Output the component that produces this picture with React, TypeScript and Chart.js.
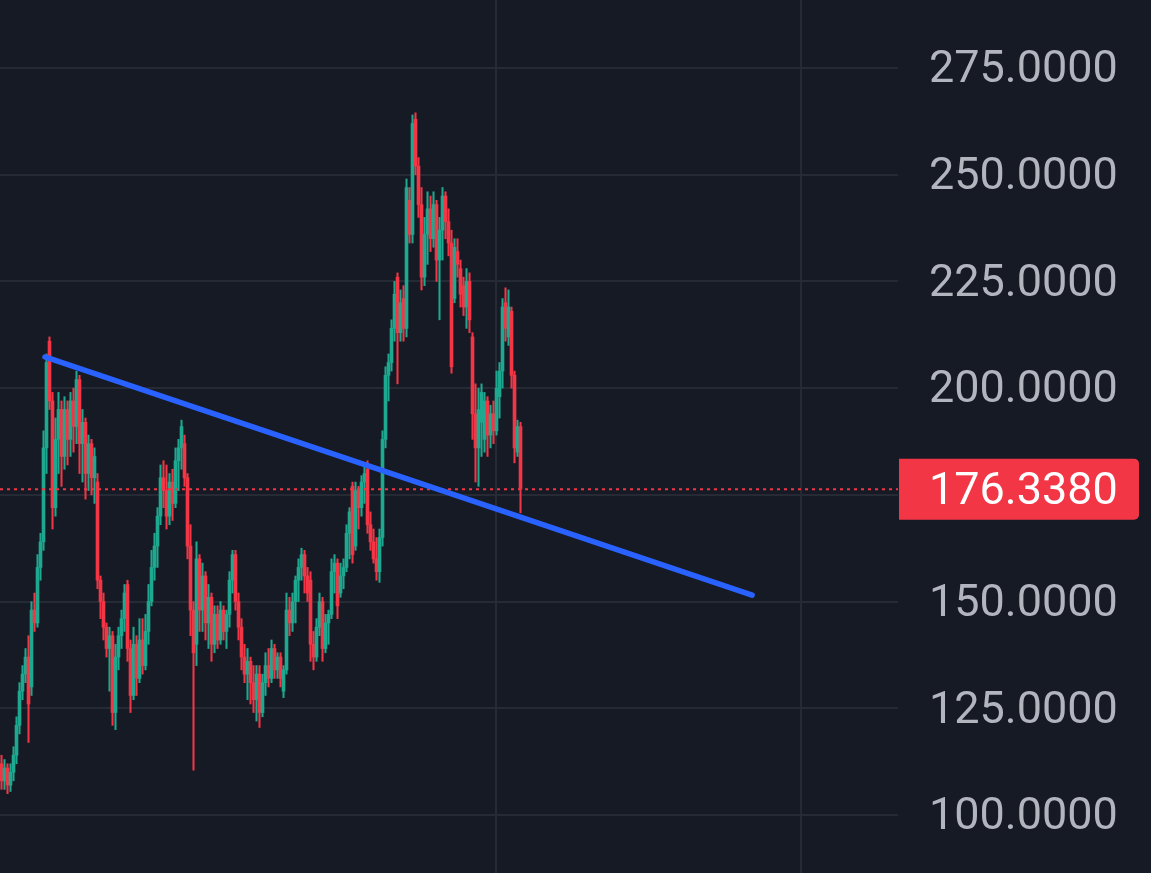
import React, { useEffect, useRef } from 'react';
import { Chart, registerables } from 'chart.js';

Chart.register(...registerables);

// OHLC data, one candle per bar
const opens = [
  112, 108, 111, 107, 110, 114, 121, 129, 133, 137,
  130, 148, 145, 158, 164, 186, 211, 197, 172, 188,
  195, 184, 195, 188, 197, 191, 202, 187, 192, 180,
  187, 179, 178, 155, 150, 144, 139, 142, 124, 137,
  142, 146, 154, 139, 128, 140, 132, 141, 135, 143,
  150, 158, 163, 170, 179, 176, 170, 178, 173, 183,
  186, 187, 179, 163, 148, 140, 160, 148, 156, 145,
  151, 140, 147, 141, 148, 143, 147, 155, 161, 150,
  144, 137, 133, 136, 131, 127, 133, 124, 131, 135,
  132, 139, 134, 137, 129, 134, 148, 145, 150, 155,
  158, 161, 156, 155, 140, 137, 144, 150, 139, 145,
  147, 157, 159, 152, 156, 158, 166, 177, 163, 176,
  172, 178, 181, 168, 164, 160, 157, 165, 188, 203,
  206, 214, 226, 213, 221, 214, 244, 236, 263, 252,
  243, 226, 236, 242, 235, 243, 230, 237, 245, 239,
  234, 221, 232, 228, 224, 219, 225, 212, 194, 186,
  192, 188, 197, 189, 194, 190, 198, 204, 220, 212,
  218, 203, 185, 191,
];
const highs = [
  114, 113, 112, 112, 116, 123, 131, 135, 139, 142,
  150, 152, 161, 166, 190, 208, 212, 199, 193, 199,
  197, 198, 197, 199, 200, 204, 203, 195, 193, 189,
  188, 186, 180, 156, 152, 145, 144, 143, 140, 144,
  148, 154, 155, 141, 144, 142, 146, 146, 147, 154,
  162, 166, 172, 182, 183, 182, 180, 181, 186, 188,
  192.5, 189, 180, 168, 150, 164, 161, 159, 157, 154,
  152, 149, 149, 150, 149, 148, 157, 162, 162, 152,
  146, 140, 139, 137, 135, 135, 135, 133, 138, 139,
  141, 140, 138, 138, 135, 152, 151, 152, 156, 160,
  162.5, 162, 158, 157, 143, 146, 152, 151, 147, 148,
  160, 161, 160, 159, 160, 168, 172, 178, 178, 177,
  179.5, 182, 183, 171, 167, 165, 167, 190, 205, 208,
  216, 225, 227, 223, 224, 249, 247, 264, 264.5, 254,
  247, 240, 246, 245, 246, 244, 240, 247, 246, 242,
  237, 235, 235, 230, 226, 228, 227, 213, 201, 200,
  201, 199, 198, 196, 197, 204, 206, 221, 223.5, 223,
  219, 204, 192.5, 192,
];
const lows = [
  106, 106, 105, 105.5, 108, 112, 119, 127, 131, 117,
  128, 143, 144, 155, 162, 180, 195, 167, 170, 180,
  177, 181, 182, 184, 185, 187, 180, 178, 174, 176,
  175, 173, 153, 146, 141, 137, 129, 121, 120, 134,
  139, 143, 136, 124, 127, 128, 131, 133, 134, 140,
  149, 155, 158, 168, 172, 167, 168, 169, 172, 176,
  181, 177, 160, 142, 110.5, 135, 143, 143, 141, 139,
  136, 138, 139, 140, 141, 139, 144, 152, 148, 141,
  134, 131, 127, 126, 124, 122, 120.5, 123, 128, 130,
  131, 132, 132, 130, 127.5, 133, 142, 143, 145, 150,
  155, 152, 150, 136, 134, 136, 142, 136, 138, 140,
  146, 152, 146, 151, 153, 157, 160, 159, 162, 167,
  170, 173, 166, 162, 159, 155, 154.5, 163, 186, 197,
  204, 211, 201, 211, 211, 212, 234, 234, 250, 240,
  223, 224, 229, 232, 233, 225, 216, 230, 235, 231,
  203.5, 220, 226, 219, 217, 214, 213, 188, 178, 177,
  184, 185, 184, 186, 187, 189, 193, 200, 211, 210,
  200, 182.5, 184, 170.8,
];
const closes = [
  108, 111, 107, 110, 114, 121, 129, 133, 137, 126,
  148, 145, 158, 164, 186, 206, 197, 172, 188, 195,
  184, 195, 188, 197, 191, 202, 187, 192, 180, 187,
  179, 184, 155, 150, 144, 139, 142, 124, 137, 142,
  146, 152, 139, 128, 140, 132, 141, 135, 143, 150,
  158, 163, 170, 179, 176, 170, 178, 173, 183, 186,
  191, 179, 163, 148, 138, 160, 148, 156, 145, 151,
  140, 147, 141, 148, 143, 147, 155, 161, 150, 144,
  137, 133, 136, 131, 127, 133, 124, 131, 135, 132,
  139, 134, 137, 132, 134, 148, 145, 150, 155, 158,
  161, 156, 152, 140, 137, 144, 150, 139, 145, 147,
  157, 159, 149, 156, 158, 166, 171, 161, 176, 172,
  178, 180, 168, 164, 160, 157, 165, 188, 203, 206,
  214, 222, 213, 220, 214, 247, 236, 262, 252, 243,
  226, 236, 242, 235, 243, 230, 237, 245, 239, 234,
  205, 233, 229, 222, 219, 225, 216, 194, 186, 195,
  199, 197, 189, 194, 190, 200, 204, 219, 214, 219,
  203, 186, 191, 176.338,
];

const yTicks = [100, 125, 150, 175, 200, 225, 250, 275];
const yRange = [86.41, 290.93];
const xRange = [-0.5, 298.83];
const vGridAt = [164.83, 266.5];
const trendLine = [
  { x: 14.5, y: 207.3 },
  { x: 250.2, y: 151.5 },
];
const lastPrice = closes[closes.length - 1];

const UP = '#1ea88f';
const DOWN = '#f23645';
const BG = '#161a25';
const GRID = '#262a35';
const TEXT = '#b2b5be';
const FONT = 'Roboto';
const FONT_SIZE = 45;

export default function App() {
  const ref = useRef<HTMLCanvasElement>(null);

  useEffect(() => {
    document.body.style.margin = '0';
    document.body.style.background = BG;
    const canvas = ref.current;
    if (!canvas) return;

    const colors = closes.map((c, i) => (c >= opens[i] ? UP : DOWN));
    const wickData = closes.map((_, i) => ({ x: i, y: [lows[i], highs[i]] }));
    const bodyData = closes.map((c, i) => ({ x: i, y: [opens[i], c] }));

    const priceLabel = {
      id: 'priceLabel',
      afterDatasetsDraw(chart: any) {
        const { ctx, chartArea } = chart;
        const y = chart.scales.y;
        const py = y.getPixelForValue(lastPrice);
        const left = chartArea.right + 1;
        const right = chart.width - 12;
        const h = 61;
        ctx.save();
        ctx.fillStyle = DOWN;
        ctx.beginPath();
        ctx.roundRect(left, py - h / 2, right - left, h, [0, 5, 5, 0]);
        ctx.fill();
        ctx.fillStyle = '#ffffff';
        ctx.font = `${FONT_SIZE}px ${FONT}`;
        ctx.textBaseline = 'middle';
        ctx.textAlign = 'left';
        ctx.fillText(lastPrice.toFixed(4), chartArea.right + 31, py + 4);
        ctx.restore();
      },
    };

    const chart = new Chart(canvas, {
      type: 'bar',
      data: {
        datasets: [
          {
            type: 'line',
            data: trendLine,
            borderColor: '#2962ff',
            borderWidth: 5.5,
            borderCapStyle: 'round',
            pointRadius: 0,
            order: 0,
          } as any,
          {
            type: 'line',
            data: [
              { x: xRange[0], y: lastPrice },
              { x: xRange[1], y: lastPrice },
            ],
            borderColor: DOWN,
            borderWidth: 2,
            borderDash: [3, 4],
            pointRadius: 0,
            order: 1,
          } as any,
          {
            type: 'bar',
            data: bodyData,
            backgroundColor: colors,
            barThickness: 3,
            grouped: false,
            order: 2,
          } as any,
          {
            type: 'bar',
            data: wickData,
            backgroundColor: colors,
            barThickness: 1.4,
            grouped: false,
            order: 3,
          } as any,
        ],
      },
      options: {
        responsive: false,
        animation: false,
        events: [],
        layout: { padding: 0 },
        plugins: { legend: { display: false }, tooltip: { enabled: false } },
        scales: {
          x: {
            type: 'linear',
            min: xRange[0],
            max: xRange[1],
            offset: false,
            afterBuildTicks: (axis: any) => {
              axis.ticks = vGridAt.map((v) => ({ value: v }));
            },
            afterFit: (axis: any) => {
              axis.height = 0;
              axis.paddingLeft = 0;
              axis.paddingRight = 0;
            },
            ticks: { display: false },
            border: { display: false },
            grid: { color: GRID, lineWidth: 2, drawTicks: false, offset: false },
          },
          y: {
            type: 'linear',
            position: 'right',
            min: yRange[0],
            max: yRange[1],
            afterBuildTicks: (axis: any) => {
              axis.ticks = yTicks.map((v) => ({ value: v }));
            },
            afterFit: (axis: any) => {
              axis.width = 253;
              axis.paddingTop = 0;
              axis.paddingBottom = 0;
            },
            ticks: {
              padding: 31,
              labelOffset: 3,
              color: TEXT,
              font: { family: FONT, size: FONT_SIZE },
              callback: (v: any) => Number(v).toFixed(4),
            },
            border: { display: false },
            grid: { color: GRID, lineWidth: 2, drawTicks: false },
          },
        },
      },
      plugins: [priceLabel],
    } as any);

    return () => chart.destroy();
  }, []);

  return (
    <div style={{ width: 1151, height: 873, background: BG }}>
      <canvas ref={ref} width={1151} height={873} style={{ display: 'block' }} />
    </div>
  );
}
